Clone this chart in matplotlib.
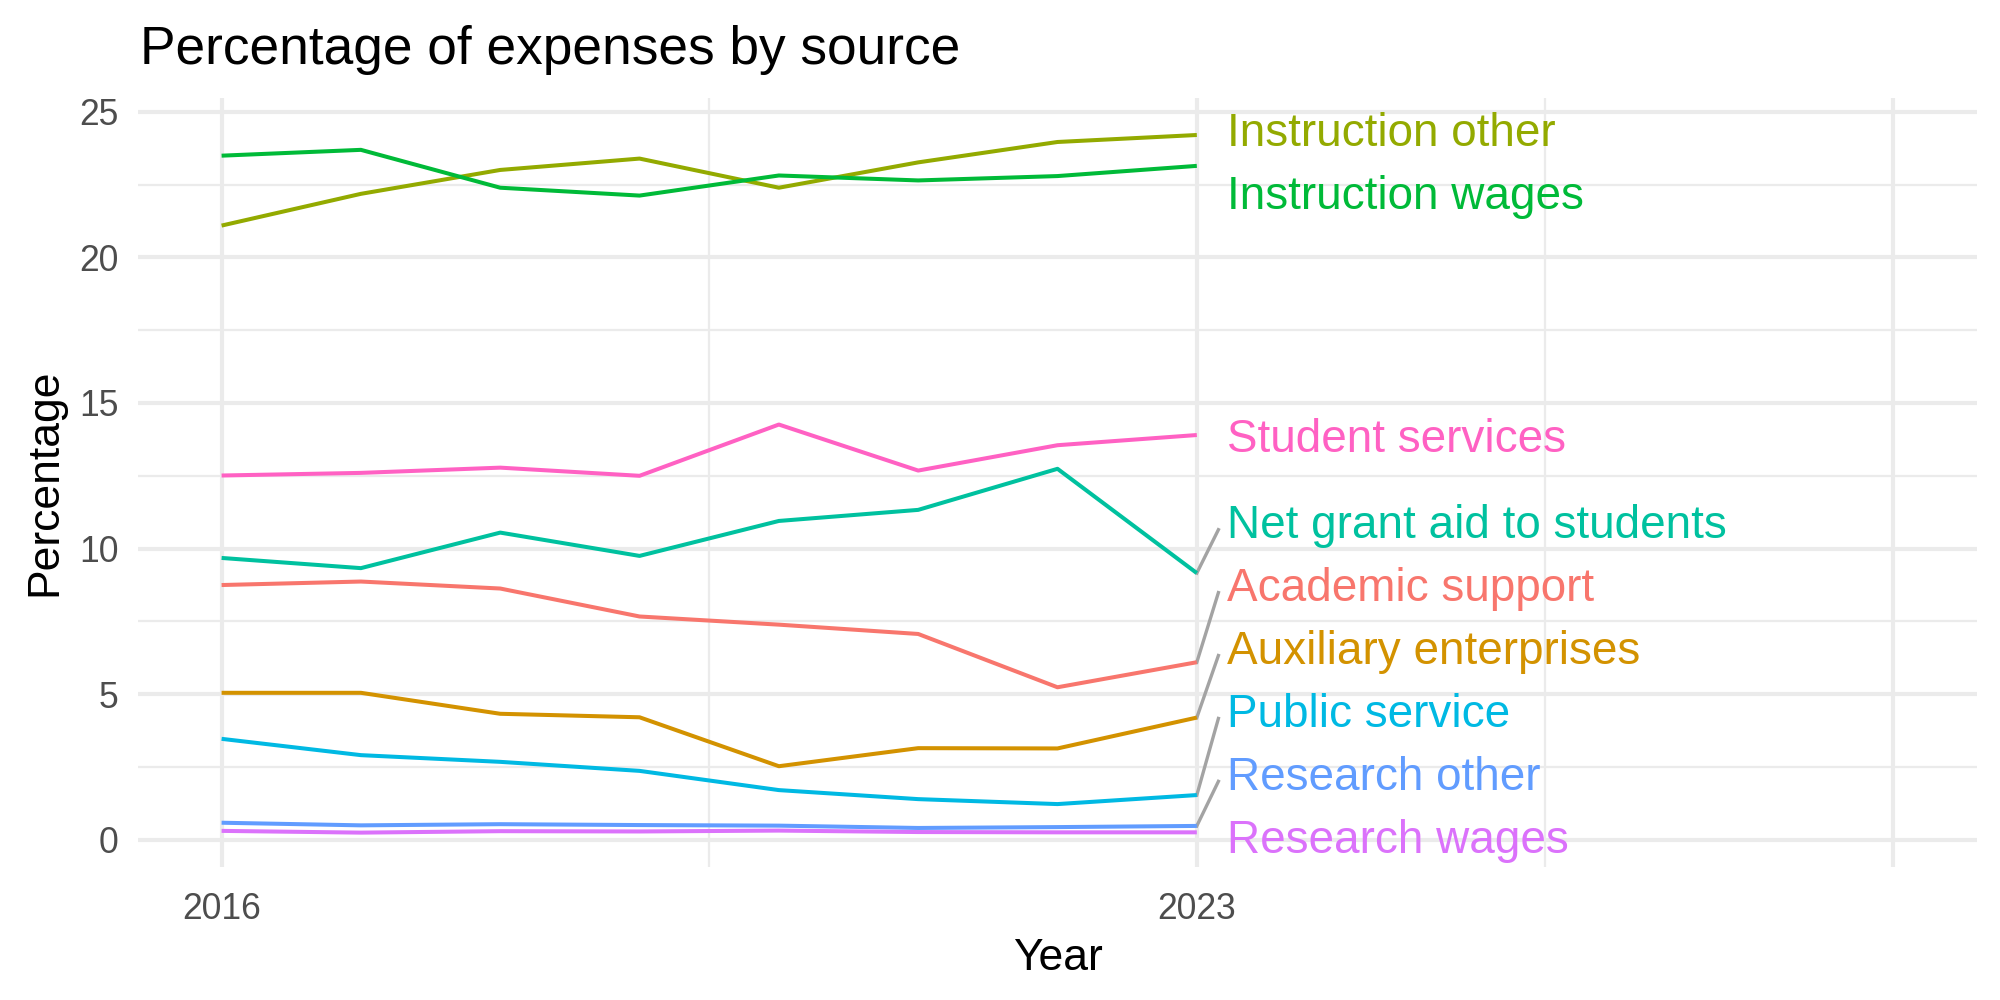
import numpy as np
import matplotlib.pyplot as plt

plt.rcParams['font.family'] = ['Liberation Sans', 'DejaVu Sans']

# data
years = [2016, 2017, 2018, 2019, 2020, 2021, 2022, 2023]
academic_support = [8.75, 8.87, 8.63, 7.67, 7.39, 7.07, 5.24, 6.10]
auxiliary_enterprises = [5.05, 5.05, 4.33, 4.21, 2.53, 3.15, 3.14, 4.20]
instruction_other = [21.09, 22.18, 23.00, 23.39, 22.39, 23.26, 23.96, 24.20]
instruction_wages = [23.49, 23.69, 22.39, 22.12, 22.81, 22.64, 22.79, 23.14]
net_grant_aid = [9.68, 9.33, 10.55, 9.75, 10.95, 11.33, 12.74, 9.16]
public_service = [3.47, 2.91, 2.68, 2.37, 1.71, 1.40, 1.23, 1.54]
research_other = [0.59, 0.50, 0.54, 0.51, 0.49, 0.41, 0.44, 0.48]
research_wages = [0.31, 0.25, 0.30, 0.29, 0.32, 0.27, 0.26, 0.26]
student_services = [12.51, 12.60, 12.78, 12.50, 14.26, 12.68, 13.55, 13.90]

series = {
    "Academic support": academic_support,
    "Auxiliary enterprises": auxiliary_enterprises,
    "Instruction other": instruction_other,
    "Instruction wages": instruction_wages,
    "Net grant aid to students": net_grant_aid,
    "Public service": public_service,
    "Research other": research_other,
    "Research wages": research_wages,
    "Student services": student_services,
}
colors = ["#F8766D", "#D39200", "#93AA00", "#00BA38", "#00C19F",
          "#00B9E3", "#619CFF", "#DB72FB", "#FF61C3"]

x_breaks = [2016, 2023, 2028]
x_labels = ["2016", "2023", ""]
x_minor = [2019.5, 2025.5]
y_breaks = [0, 5, 10, 15, 20, 25]
y_minor = [2.5, 7.5, 12.5, 17.5, 22.5]

fig = plt.figure(figsize=(10, 5), dpi=200)
ax = fig.add_axes([0.069, 0.133, 0.9195, 0.769])

grid_col = "#EBEBEB"
for xv in x_breaks:
    ax.axvline(xv, color=grid_col, lw=1.5, zorder=0)
for xv in x_minor:
    ax.axvline(xv, color=grid_col, lw=0.8, zorder=0)
for yv in y_breaks:
    ax.axhline(yv, color=grid_col, lw=1.5, zorder=0)
for yv in y_minor:
    ax.axhline(yv, color=grid_col, lw=0.8, zorder=0)

for (name, vals), c in zip(series.items(), colors):
    ax.plot(years, vals, color=c, lw=1.45, solid_capstyle="butt", zorder=2)

# repel the end labels: overlapping neighbours push each other apart, kept in bounds
names = list(series.keys())
ends = np.array([series[n][-1] for n in names])
order = np.argsort(ends)
gap, lo, hi = 2.16, 0.15, 24.4
pos = ends[order].astype(float).copy()
for _ in range(500):
    for i in range(len(pos) - 1):
        d = pos[i + 1] - pos[i]
        if d < gap:
            pos[i] -= (gap - d) / 2
            pos[i + 1] += (gap - d) / 2
    pos = np.clip(pos, lo, hi)
label_y = np.empty_like(pos)
label_y[order] = pos

x_end = years[-1]
for i, name in enumerate(names):
    ly = label_y[i]
    if ly - ends[i] > 1.2:
        ax.plot([x_end, x_end + 0.155], [ends[i], ly - 0.3],
                color="#A3A3A3", lw=1.2, zorder=1)
    ax.text(x_end + 0.22, ly, name, color=colors[i], fontsize=16.5,
            ha="left", va="center_baseline")

ax.set_xlim(2015.4, 2028.6)
ax.set_ylim(-0.93, 25.47)
ax.set_xticks(x_breaks)
ax.set_xticklabels(x_labels)
ax.set_yticks(y_breaks)
ax.tick_params(length=0, labelsize=12.8, labelcolor="#4D4D4D", pad=7)
ax.tick_params(axis="x", pad=9)
for s in ax.spines.values():
    s.set_visible(False)

ax.set_xlabel("Year", fontsize=16, labelpad=4)
ax.set_ylabel("Percentage", fontsize=16, labelpad=5)
fig.text(0.07, 0.95, "Percentage of expenses by source", fontsize=19.2,
         ha="left", va="center")

fig.savefig("out.png", dpi=200)
